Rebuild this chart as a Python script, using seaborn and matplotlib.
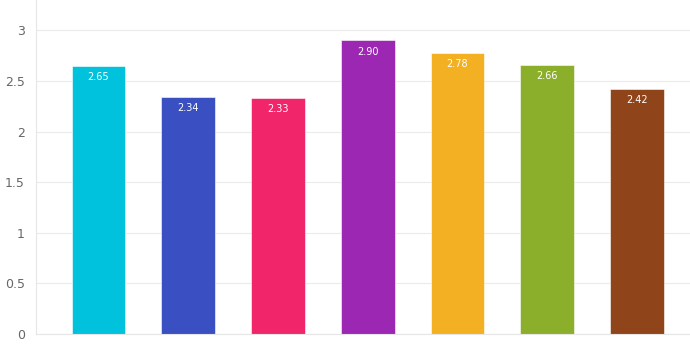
import matplotlib
matplotlib.use("Agg")
import matplotlib.pyplot as plt
import seaborn as sns
import pandas as pd

categories = ["A", "B", "C", "D", "E", "F", "G"]
values = [2.65, 2.34, 2.33, 2.90, 2.78, 2.66, 2.42]
colors = ["#00C2DC", "#3A4FC1", "#F1266A", "#9C27B2", "#F4B023", "#8BAF2B", "#8F4519"]

df = pd.DataFrame({"cat": categories, "val": values})

sns.set_style("white")
fig = plt.figure(figsize=(6.9, 3.52), dpi=100)
ax = fig.add_axes([36 / 690, 18 / 352, 1 - 36 / 690, 1 - 18 / 352])

sns.barplot(data=df, x="cat", y="val", hue="cat", palette=colors, width=0.6,
            legend=False, ax=ax, saturation=1, edgecolor="white", linewidth=0.4)

for i, v in enumerate(values):
    ax.text(i, v - 0.06, f"{v:.2f}", ha="center", va="top", color="white", fontsize=7)

ax.set_xlim(-0.696, 6.59)
ax.set_ylim(0, 3.3)
ax.set_yticks([0, 0.5, 1, 1.5, 2, 2.5, 3])
ax.set_yticklabels(["0", "0.5", "1", "1.5", "2", "2.5", "3"])
ax.yaxis.grid(True, color="#EBEBEB", linewidth=0.8)
ax.set_axisbelow(True)
ax.set_xticks(range(len(categories)))
ax.set_xticklabels([])
ax.tick_params(axis="x", length=2, color="#E0E0E0")
ax.tick_params(axis="y", length=0, labelsize=9, labelcolor="#666666", pad=8)
ax.set_xlabel("")
ax.set_ylabel("")
for s in ["top", "right"]:
    ax.spines[s].set_visible(False)
ax.spines["left"].set_color("#E6E6E6")
ax.spines["bottom"].set_color("#E6E6E6")

fig.savefig("out.png", dpi=100)
